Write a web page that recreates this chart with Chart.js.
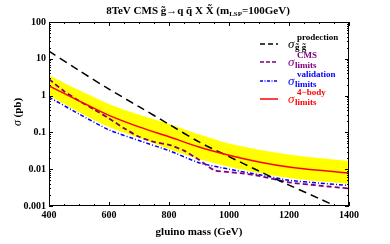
<!DOCTYPE html>
<html>
<head>
<meta charset="utf-8">
<script src="https://cdn.jsdelivr.net/npm/chart.js@4"></script>
<style>
  html, body { margin: 0; padding: 0; background: #fff; }
  #wrap { width: 390px; height: 244px; }
</style>
</head>
<body>
<div id="wrap"><canvas id="myChart" width="390" height="244"></canvas></div>
<script>
// gluino masses (GeV)
const masses = [400, 500, 600, 700, 800, 900, 1000, 1100, 1200, 1300, 1400];
const cmsMasses = [400, 450, 500, 550, 600, 650, 700, 750, 800, 850, 900, 950, 1000, 1050, 1100, 1200, 1300, 1400];

// cross sections (pb)
const production = [16.2, 4.8, 1.5, 0.50, 0.166, 0.055, 0.022, 0.0089, 0.0037, 0.0016, 0.00068];
const cmsLimits = [2.8, 1.32, 0.72, 0.42, 0.24, 0.13, 0.076, 0.055, 0.046, 0.032, 0.018, 0.0095, 0.0083, 0.0076, 0.0066, 0.0044, 0.0036, 0.0030];
const validationLimits = [0.91, 0.316, 0.117, 0.060, 0.032, 0.015, 0.010, 0.0071, 0.0050, 0.0042, 0.0036];
const bodyLimits = [1.82, 0.72, 0.29, 0.141, 0.076, 0.040, 0.024, 0.0158, 0.0115, 0.0093, 0.0079];
const bandUpper = [3.6, 1.41, 0.59, 0.30, 0.17, 0.089, 0.050, 0.034, 0.025, 0.020, 0.0166];
const bandLower = [1.0, 0.355, 0.141, 0.071, 0.035, 0.019, 0.0117, 0.0079, 0.0058, 0.0047, 0.0040];

const xTicks = [400, 600, 800, 1000, 1200, 1400];
const yTicks = [0.001, 0.01, 0.1, 1, 10, 100];
const yTickLabels = ['0.001', '0.01', '0.1', '1', '10', '100'];

const serif = '"Liberation Serif", "DejaVu Serif", serif';

function pts(xs, ys) {
    return xs.map((x, i) => ({ x: x, y: ys[i] }));
}

// frame, inside ticks, titles and legend
const decorations = {
    id: 'decorations',
    afterDraw(chart) {
        const ctx = chart.ctx;
        const a = chart.chartArea;
        const xs = chart.scales.x;
        const ys = chart.scales.y;
        ctx.save();
        ctx.strokeStyle = '#000';
        ctx.lineWidth = 1;
        ctx.strokeRect(a.left + 0.5, a.top + 0.5, a.right - a.left - 1, a.bottom - a.top - 1);

        ctx.beginPath();
        for (let m = 400; m <= 1400; m += 50) {
            const px = Math.round(xs.getPixelForValue(m)) + 0.5;
            const len = (m % 200 === 0) ? 4 : 2;
            ctx.moveTo(px, a.bottom); ctx.lineTo(px, a.bottom - len);
            ctx.moveTo(px, a.top); ctx.lineTo(px, a.top + len);
        }
        for (let d = 0.001; d < 150; d *= 10) {
            for (let k = 1; k <= 9; k++) {
                const v = d * k;
                if (v > 100.0001) break;
                const py = Math.round(ys.getPixelForValue(v)) + 0.5;
                const len = (k === 1) ? 4 : 2;
                ctx.moveTo(a.left, py); ctx.lineTo(a.left + len, py);
                ctx.moveTo(a.right, py); ctx.lineTo(a.right - len, py);
            }
        }
        ctx.stroke();

        // title
        ctx.fillStyle = '#000';
        ctx.textBaseline = 'alphabetic';
        ctx.font = 'bold 11px ' + serif;
        const t1 = '8TeV CMS g\u0303\u2192q q\u0304 X X\u0303 (m';
        const t2 = '=100GeV)';
        ctx.font = 'bold 11px ' + serif;
        const w1 = ctx.measureText(t1).width;
        const w3 = ctx.measureText(t2).width;
        ctx.font = 'bold 7px ' + serif;
        const w2 = ctx.measureText('LSP').width;
        let tx = 198 - (w1 + w2 + w3) / 2;
        ctx.textAlign = 'left';
        ctx.font = 'bold 11px ' + serif;
        ctx.fillText(t1, tx, 14);
        ctx.font = 'bold 7px ' + serif;
        ctx.fillText('LSP', tx + w1, 16);
        ctx.font = 'bold 11px ' + serif;
        ctx.fillText(t2, tx + w1 + w2, 14);

        // axis titles
        ctx.textAlign = 'center';
        ctx.font = 'bold 11px ' + serif;
        ctx.fillText('gluino mass (GeV)', 199, 235);
        ctx.save();
        ctx.translate(21, 112);
        ctx.rotate(-Math.PI / 2);
        ctx.font = 'italic 12px ' + serif;
        const ws = ctx.measureText('\u03c3').width;
        ctx.font = 'bold 11px ' + serif;
        const wp = ctx.measureText(' (pb)').width;
        ctx.textAlign = 'left';
        ctx.font = 'italic 12px ' + serif;
        ctx.fillText('\u03c3', -(ws + wp) / 2, 0);
        ctx.font = 'bold 11px ' + serif;
        ctx.fillText(' (pb)', -(ws + wp) / 2 + ws, 0);
        ctx.restore();

        // legend
        const rows = [
            { color: '#000000', dash: [5, 3], width: 1.5, sup: 'prodection', sub: 'g\u0303 g\u0303' },
            { color: '#800080', dash: [4, 2], width: 1.5, sup: 'CMS', sub: 'limits' },
            { color: '#0000ff', dash: [3, 1.5, 1, 1.5], width: 1.5, sup: 'validation', sub: 'limits' },
            { color: '#ff0000', dash: [], width: 1.5, sup: '4\u2212body', sub: 'limits' }
        ];
        const rowY = [44, 62, 81, 99];
        rows.forEach((r, i) => {
            const y = rowY[i];
            ctx.beginPath();
            ctx.setLineDash(r.dash);
            ctx.strokeStyle = r.color;
            ctx.lineWidth = r.width;
            ctx.moveTo(260, y);
            ctx.lineTo(278, y);
            ctx.stroke();
            ctx.setLineDash([]);
            ctx.fillStyle = r.color;
            ctx.textAlign = 'left';
            ctx.font = 'italic 13px ' + serif;
            ctx.fillText('\u03c3', 288, y + 4);
            ctx.font = 'bold 9px ' + serif;
            ctx.fillText(r.sup, 297, y - 4);
            ctx.fillText(r.sub, 295, y + 6);
        });
        ctx.restore();
    }
};

const ctx = document.getElementById('myChart').getContext('2d');
window.myChart = new Chart(ctx, {
    type: 'line',
    data: {
        datasets: [
            {
                label: 'band upper',
                data: pts(masses, bandUpper),
                borderWidth: 0,
                pointRadius: 0,
                backgroundColor: '#ffff00',
                fill: '+1',
                tension: 0.3,
                order: 5
            },
            {
                label: 'band lower',
                data: pts(masses, bandLower),
                borderWidth: 0,
                pointRadius: 0,
                backgroundColor: '#ffff00',
                fill: false,
                tension: 0.3,
                order: 5
            },
            {
                label: 'production',
                data: pts(masses, production),
                borderColor: '#000000',
                borderWidth: 1.5,
                borderDash: [8, 5],
                pointRadius: 0,
                fill: false,
                tension: 0.3,
                order: 1
            },
            {
                label: 'CMS limits',
                data: pts(cmsMasses, cmsLimits),
                borderColor: '#800080',
                borderWidth: 1.8,
                borderDash: [5, 3],
                pointRadius: 0,
                fill: false,
                tension: 0.2,
                order: 2
            },
            {
                label: 'validation limits',
                data: pts(masses, validationLimits),
                borderColor: '#0000ff',
                borderWidth: 1.5,
                borderDash: [4, 2, 1, 2],
                pointRadius: 0,
                fill: false,
                tension: 0.2,
                order: 3
            },
            {
                label: '4-body limits',
                data: pts(masses, bodyLimits),
                borderColor: '#ff0000',
                borderWidth: 1.5,
                pointRadius: 0,
                fill: false,
                tension: 0.3,
                order: 0
            }
        ]
    },
    options: {
        responsive: false,
        animation: false,
        layout: { padding: { top: 22, right: 41, left: 0, bottom: 0 } },
        plugins: {
            legend: { display: false },
            tooltip: { enabled: false },
            title: { display: false }
        },
        scales: {
            x: {
                type: 'linear',
                min: 400,
                max: 1400,
                afterBuildTicks: (scale) => { scale.ticks = xTicks.map(v => ({ value: v })); },
                afterFit: (scale) => { scale.height = 38; },
                grid: { display: false, drawTicks: false },
                border: { display: false },
                ticks: {
                    color: '#000',
                    padding: 3,
                    maxRotation: 0,
                    font: { family: serif, size: 10, weight: 'bold' },
                    callback: (v) => String(v)
                }
            },
            y: {
                type: 'logarithmic',
                min: 0.001,
                max: 100,
                afterBuildTicks: (scale) => { scale.ticks = yTicks.map(v => ({ value: v })); },
                afterFit: (scale) => { scale.width = 49; },
                grid: { display: false, drawTicks: false },
                border: { display: false },
                ticks: {
                    color: '#000',
                    padding: 3,
                    font: { family: serif, size: 10, weight: 'bold' },
                    callback: (v) => {
                        const i = yTicks.findIndex(t => Math.abs(t - v) / t < 1e-6);
                        return i >= 0 ? yTickLabels[i] : '';
                    }
                }
            }
        }
    },
    plugins: [decorations]
});
</script>
</body>
</html>
